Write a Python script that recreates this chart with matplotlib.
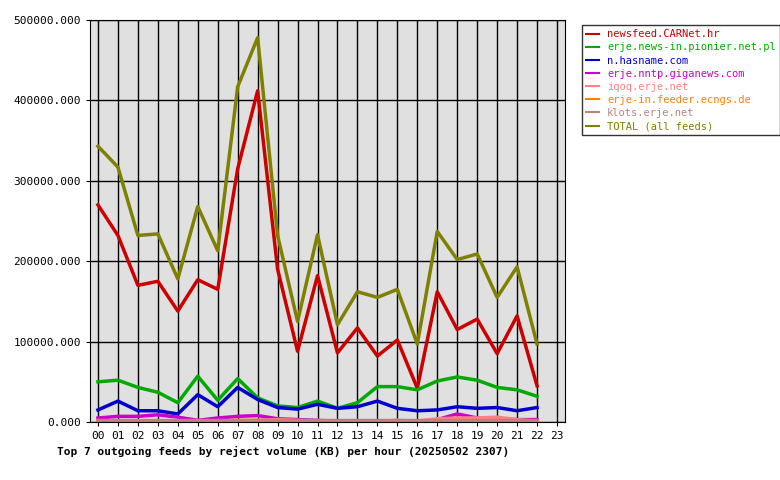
import matplotlib
matplotlib.use("Agg")
import matplotlib.pyplot as plt

hours = ["%02d" % h for h in range(24)]
x = list(range(23))

newsfeed = [270000, 232000, 170000, 175000, 138000, 177000, 165000, 315000, 412000, 190000, 88000, 182000,
            86000, 117000, 82000, 102000, 42000, 162000, 115000, 128000, 85000, 132000, 45000]
pionier = [50000, 52000, 43000, 37000, 24000, 57000, 27000, 54000, 30000, 20000, 18000, 26000,
           17000, 24000, 44000, 44000, 40000, 51000, 56000, 52000, 43000, 40000, 32000]
hasname = [15000, 26000, 14000, 14000, 10000, 34000, 19000, 43000, 28000, 18000, 16000, 22000,
           17000, 19000, 26000, 17000, 14000, 15000, 19000, 17000, 18000, 14000, 18000]
giganews = [5000, 7000, 7000, 9000, 6000, 2000, 5000, 7000, 8000, 4000, 3000, 2000,
            1000, 1000, 1000, 1000, 1000, 3000, 10000, 5000, 4000, 3000, 3000]
iqoq = [1000, 1000, 1000, 1000, 1000, 1000, 1000, 1000, 2000, 3000, 2000, 1000,
        1000, 1000, 1000, 2000, 1000, 4000, 5000, 5000, 6000, 3000, 1000]
ecngs = [1000, 1000, 1000, 1000, 1000, 1000, 1000, 2000, 2000, 1000, 1000, 1000,
         1000, 1000, 1000, 1000, 1000, 1000, 1000, 1000, 1000, 1000, 1000]
klots = [2000, 2000, 2000, 2000, 2000, 2000, 2000, 2000, 2000, 2000, 2000, 2000,
         2000, 2000, 2000, 2000, 2000, 2000, 2000, 2000, 2000, 2000, 2000]
total = [343000, 317000, 232000, 234000, 178000, 268000, 213000, 417000, 478000, 232000, 125000, 233000,
         121000, 162000, 155000, 165000, 97000, 237000, 202000, 209000, 155000, 193000, 97000]

series = [
    ("newsfeed.CARNet.hr", newsfeed, "#cc0000"),
    ("erje.news-in.pionier.net.pl", pionier, "#00aa00"),
    ("n.hasname.com", hasname, "#0000cc"),
    ("erje.nntp.giganews.com", giganews, "#cc00cc"),
    ("iqoq.erje.net", iqoq, "#ff8080"),
    ("erje-in.feeder.ecngs.de", ecngs, "#ff8000"),
    ("klots.erje.net", klots, "#c08080"),
    ("TOTAL (all feeds)", total, "#808000"),
]

plt.rcParams["font.family"] = "DejaVu Sans Mono"
fig = plt.figure(figsize=(7.8, 4.8), dpi=100)
ax = fig.add_axes([90 / 780, 58 / 480, 475 / 780, 402 / 480])
ax.set_facecolor("#e0e0e0")

for name, vals, col in series:
    ax.plot(x, vals, color=col, lw=2.5, label=name)

ax.set_xlim(-0.4, 23.4)
ax.set_ylim(0, 500000)
ax.set_xticks(range(24))
ax.set_xticklabels(hours, fontsize=8)
ax.set_yticks(range(0, 500001, 100000))
ax.set_yticklabels(["%d.000" % v if v else "0.000" for v in range(0, 500001, 100000)], fontsize=8)
ax.grid(True, color="black", lw=1)
ax.set_axisbelow(True)
ax.tick_params(length=3)
ax.set_xlabel("Top 7 outgoing feeds by reject volume (KB) per hour (20250502 2307)",
              fontsize=8, fontweight="bold", loc="left", labelpad=4)
ax.xaxis.set_label_coords(-0.07, -0.06)

leg = fig.legend(loc="upper left", bbox_to_anchor=(577 / 780, 1 - 20 / 480), fontsize=7.5,
                 frameon=True, fancybox=False, edgecolor="black", handlelength=1.2,
                 borderpad=0.4, labelspacing=0.3)
for txt, (_, _, col) in zip(leg.get_texts(), series):
    txt.set_color(col)
for ln in leg.get_lines():
    ln.set_linewidth(1.5)

fig.savefig("out.png", dpi=100)
